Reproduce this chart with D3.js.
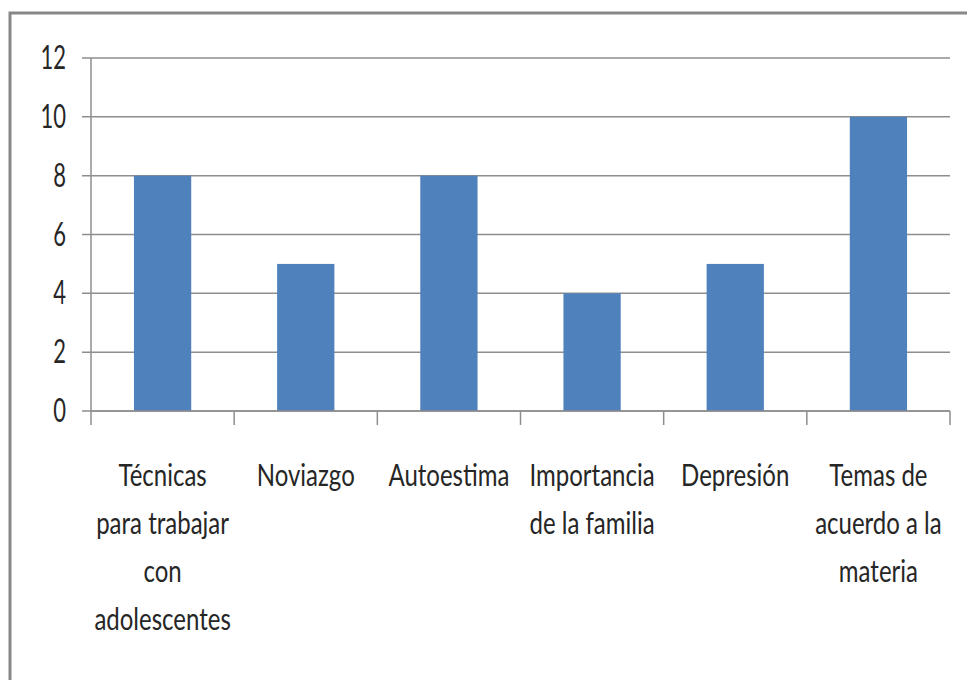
<!DOCTYPE html>
<html>
<head>
<meta charset="utf-8">
<script src="https://cdn.jsdelivr.net/npm/d3@7"></script>
<style>
  body { margin: 0; background: #fff; overflow: hidden; }
  text { font-family: Lato, "Open Sans", sans-serif; fill: #262626; }
</style>
</head>
<body>
<svg id="chart"></svg>
<script>
// datos
const categorias = ['Técnicas para trabajar con adolescentes', 'Noviazgo', 'Autoestima',
                    'Importancia de la familia', 'Depresión', 'Temas de acuerdo a la materia'];
const lineas = [
    ['Técnicas', 'para trabajar', 'con', 'adolescentes'],
    ['Noviazgo'],
    ['Autoestima'],
    ['Importancia', 'de la familia'],
    ['Depresión'],
    ['Temas de', 'acuerdo a la', 'materia']
];
const valores = [8, 5, 8, 4, 5, 10];
const yTicks = [0, 2, 4, 6, 8, 10, 12];

const width = 967, height = 680;
const plotLeft = 91, plotRight = 950, plotTop = 58, plotBottom = 411;

const svg = d3.select('#chart')
    .attr('width', width)
    .attr('height', height)
    .style('display', 'block');

// marco
svg.append('rect')
    .attr('x', 10).attr('y', 13)
    .attr('width', 980).attr('height', 700)
    .attr('fill', 'none')
    .attr('stroke', '#878787')
    .attr('stroke-width', 3);

const x = d3.scaleBand()
    .domain(categorias)
    .range([plotLeft, plotRight])
    .paddingInner(0.6)
    .paddingOuter(0.3);

const y = d3.scaleLinear()
    .domain([0, 12])
    .range([plotBottom, plotTop]);

// lineas de cuadricula
svg.append('g')
    .selectAll('line')
    .data(yTicks)
    .enter()
    .append('line')
    .attr('x1', plotLeft - 9)
    .attr('x2', plotRight)
    .attr('y1', d => y(d))
    .attr('y2', d => y(d))
    .attr('stroke', '#8e8e8e')
    .attr('stroke-width', 1.5);

// eje y
svg.append('line')
    .attr('x1', plotLeft).attr('x2', plotLeft)
    .attr('y1', plotTop).attr('y2', plotBottom)
    .attr('stroke', '#8e8e8e')
    .attr('stroke-width', 1.5);

svg.append('g')
    .selectAll('text')
    .data(yTicks)
    .enter()
    .append('text')
    .attr('text-anchor', 'end')
    .attr('transform', d => `translate(66, ${y(d) + 11}) scale(1, 1.5)`)
    .style('font-size', '22px')
    .text(d => d);

// barras
svg.append('g')
    .selectAll('rect')
    .data(valores)
    .enter()
    .append('rect')
    .attr('x', (d, i) => x(categorias[i]))
    .attr('y', d => y(d))
    .attr('width', x.bandwidth())
    .attr('height', d => y(0) - y(d))
    .attr('fill', '#4F81BD');

// eje x
svg.append('line')
    .attr('x1', plotLeft).attr('x2', plotRight)
    .attr('y1', plotBottom).attr('y2', plotBottom)
    .attr('stroke', '#8e8e8e')
    .attr('stroke-width', 1.5);

const bordes = d3.range(categorias.length + 1).map(i => plotLeft + i * (plotRight - plotLeft) / categorias.length);
svg.append('g')
    .selectAll('line')
    .data(bordes)
    .enter()
    .append('line')
    .attr('x1', d => d).attr('x2', d => d)
    .attr('y1', plotBottom).attr('y2', plotBottom + 14)
    .attr('stroke', '#8e8e8e')
    .attr('stroke-width', 1.5);

// etiquetas
const etiquetas = svg.append('g');
categorias.forEach(function(c, i) {
    const cx = x(c) + x.bandwidth() / 2;
    lineas[i].forEach(function(t, j) {
        etiquetas.append('text')
            .attr('text-anchor', 'middle')
            .attr('transform', `translate(${cx}, ${486 + j * 48}) scale(1, 1.25)`)
            .style('font-size', '24px')
            .text(t);
    });
});
</script>
</body>
</html>
